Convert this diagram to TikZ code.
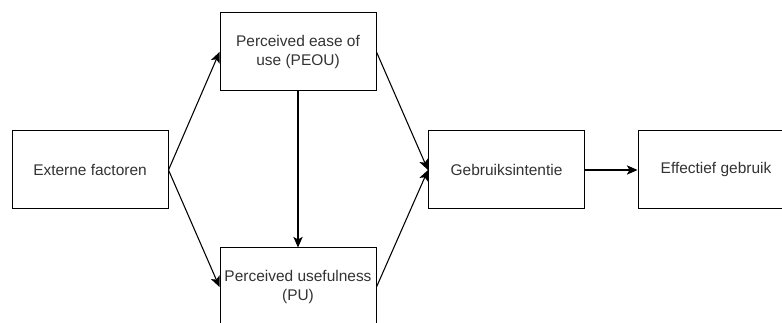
\documentclass[tikz,border=0pt]{standalone}
\usepackage{fontspec}
\setmainfont{Liberation Sans}
\usepackage{tikz}
\usetikzlibrary{positioning,arrows.meta}
\definecolor{txtgray}{RGB}{51,51,51}

\begin{document}
\begin{tikzpicture}[x=0.75pt, y=-0.75pt,
        box/.style={rectangle, draw=black, fill=white, line width=0.75pt,
                    minimum width=117pt, minimum height=58.5pt,
                    text=txtgray, align=center,
                    font=\fontsize{11.6}{14.5}\selectfont},
        arr/.style={-{Stealth[length=8pt,width=7pt,inset=2pt]}, line width=0.8pt, black}
      ]
        \useasboundingbox (0,0) rectangle (782,323);
        \clip (0,0) rectangle (782,323);
        \node[box] (ext) at (90,170) {Externe factoren};
        \node[box] (peou) at (298,52) {Perceived ease of\\use (PEOU)};
        \node[box] (pu) at (298,287) {Perceived usefulness\\(PU)};
        \node[box] (gi) at (506.5,170) {Gebruiksintentie};
        \node[box] (eg) at (716,170) {Effectief gebruik};
        \draw[arr] (ext.east) -- (peou.west);
        \draw[arr] (ext.east) -- (pu.west);
        \draw[arr] (peou.south) -- (pu.north);
        \draw[arr] (peou.east) -- (gi.west);
        \draw[arr] (pu.east) -- (gi.west);
        \draw[arr] (gi.east) -- (eg.west);
      \end{tikzpicture}
\end{document}
